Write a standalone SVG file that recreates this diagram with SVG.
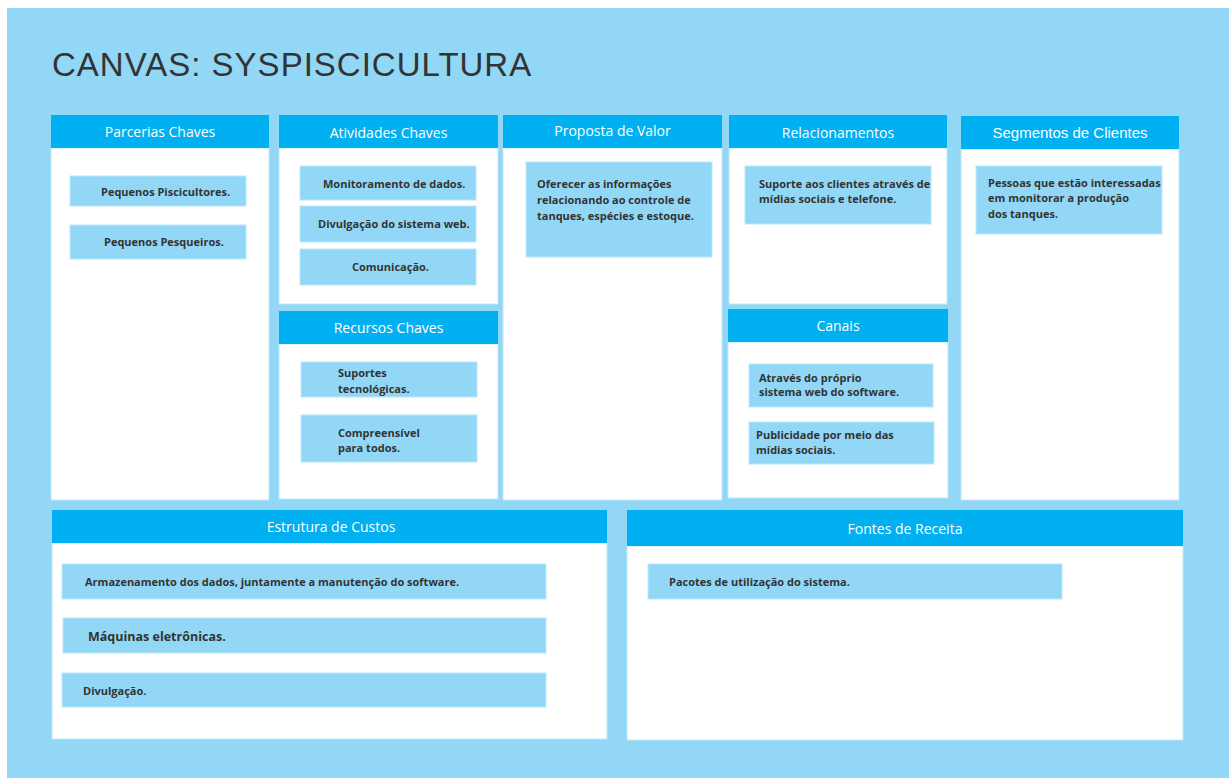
<svg xmlns="http://www.w3.org/2000/svg" width="1229" height="778" viewBox="0 0 1229 778">
<style>
.hd{fill:#00b0f0}
.bd{fill:#ffffff;stroke:#bfe8fa;stroke-width:1}
.st{fill:#92d8f6;stroke:#b9e7fb;stroke-width:1}
.ht{font-family:"Open Sans","Noto Sans",sans-serif;font-size:14px;fill:#ffffff;text-anchor:middle;dominant-baseline:central}
.tx{font-family:"Open Sans","Noto Sans",sans-serif;font-size:11px;font-weight:bold;fill:#333333;dominant-baseline:central}
</style>
<rect x="0" y="0" width="1229" height="778" fill="#ffffff"/>
<rect x="7" y="8" width="1222" height="770" fill="#92d7f5"/>
<text x="52" y="76" font-family="Liberation Sans, Arial, sans-serif" font-size="33" letter-spacing="1" fill="#333333">CANVAS: SYSPISCICULTURA</text>

<g id="parcerias">
<rect class="bd" x="51" y="148" width="218" height="352"/>
<rect class="hd" x="51" y="115" width="218" height="33"/>
<text class="ht" x="160" y="131">Parcerias Chaves</text>
<rect class="st" x="70" y="176" width="176" height="30"/>
<text class="tx" x="101" y="191">Pequenos Piscicultores.</text>
<rect class="st" x="70" y="225" width="176" height="34"/>
<text class="tx" x="104" y="241">Pequenos Pesqueiros.</text>
</g>

<g id="atividades">
<rect class="bd" x="279" y="148" width="219" height="156"/>
<rect class="hd" x="279" y="115" width="219" height="33"/>
<text class="ht" x="388.5" y="132">Atividades Chaves</text>
<rect class="st" x="300" y="166" width="176" height="34"/>
<text class="tx" x="323" y="183">Monitoramento de dados.</text>
<rect class="st" x="300" y="206" width="176" height="36"/>
<text class="tx" x="318" y="223">Divulgação do sistema web.</text>
<rect class="st" x="300" y="249" width="176" height="36"/>
<text class="tx" x="352" y="266">Comunicação.</text>
</g>

<g id="recursos">
<rect class="bd" x="279" y="344" width="219" height="155"/>
<rect class="hd" x="279" y="311" width="219" height="33"/>
<text class="ht" x="388.5" y="327">Recursos Chaves</text>
<rect class="st" x="301" y="362" width="176" height="35"/>
<text class="tx" x="338" y="372">Suportes</text>
<text class="tx" x="338" y="388">tecnológicas.</text>
<rect class="st" x="301" y="415" width="176" height="47"/>
<text class="tx" x="338" y="432">Compreensível</text>
<text class="tx" x="338" y="447">para todos.</text>
</g>

<g id="proposta">
<rect class="bd" x="503" y="148" width="219" height="352"/>
<rect class="hd" x="503" y="115" width="219" height="33"/>
<text class="ht" x="612.5" y="130">Proposta de Valor</text>
<rect class="st" x="526" y="162" width="186" height="95"/>
<text class="tx" x="537" y="183">Oferecer as informações</text>
<text class="tx" x="537" y="199">relacionando ao controle de</text>
<text class="tx" x="537" y="215">tanques, espécies e estoque.</text>
</g>

<g id="relacionamentos">
<rect class="bd" x="729" y="148" width="218" height="156"/>
<rect class="hd" x="729" y="115" width="218" height="33"/>
<text class="ht" x="838" y="132">Relacionamentos</text>
<rect class="st" x="745" y="166" width="186" height="58"/>
<text class="tx" x="759" y="183">Suporte aos clientes através de</text>
<text class="tx" x="759" y="198">mídias sociais e telefone.</text>
</g>

<g id="canais">
<rect class="bd" x="728" y="342" width="220" height="156"/>
<rect class="hd" x="728" y="309" width="220" height="33"/>
<text class="ht" x="838" y="325">Canais</text>
<rect class="st" x="749" y="364" width="184" height="43"/>
<text class="tx" x="759" y="377">Através do próprio</text>
<text class="tx" x="759" y="391">sistema web do software.</text>
<rect class="st" x="749" y="422" width="185" height="42"/>
<text class="tx" x="756" y="434">Publicidade por meio das</text>
<text class="tx" x="756" y="449">mídias sociais.</text>
</g>

<g id="segmentos">
<rect class="bd" x="961" y="149" width="218" height="351"/>
<rect class="hd" x="961" y="116" width="218" height="33"/>
<text class="ht" x="1070" y="132" style="font-family:'Liberation Sans',Arial,sans-serif;font-size:15px">Segmentos de Clientes</text>
<rect class="st" x="976" y="166" width="186" height="68"/>
<text class="tx" x="988" y="182">Pessoas que estão interessadas</text>
<text class="tx" x="988" y="197">em monitorar a produção</text>
<text class="tx" x="988" y="213">dos tanques.</text>
</g>

<g id="custos">
<rect class="bd" x="52" y="543" width="555" height="196"/>
<rect class="hd" x="52" y="510" width="555" height="33"/>
<text class="ht" x="331" y="526">Estrutura de Custos</text>
<rect class="st" x="62" y="564" width="484" height="35"/>
<text class="tx" x="85" y="581">Armazenamento dos dados, juntamente a manutenção do software.</text>
<rect class="st" x="63" y="618" width="483" height="35"/>
<text class="tx" x="88" y="636" style="font-size:12.5px">Máquinas eletrônicas.</text>
<rect class="st" x="62" y="673" width="484" height="34"/>
<text class="tx" x="83" y="690">Divulgação.</text>
</g>

<g id="fontes">
<rect class="bd" x="627" y="546" width="556" height="194"/>
<rect class="hd" x="627" y="510" width="556" height="36"/>
<text class="ht" x="905" y="528">Fontes de Receita</text>
<rect class="st" x="648" y="564" width="414" height="35"/>
<text class="tx" x="669" y="581">Pacotes de utilização do sistema.</text>
</g>

<g id="connectors"></g>
</svg>
